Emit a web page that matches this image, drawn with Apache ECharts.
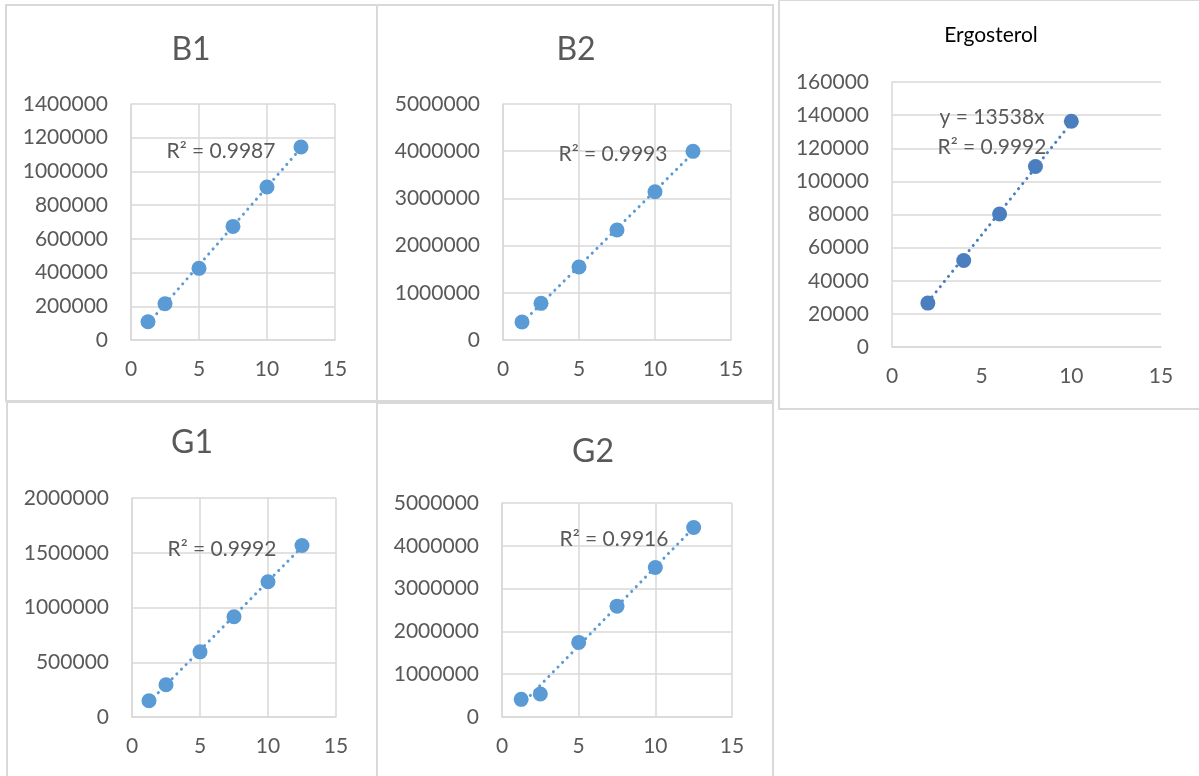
<!DOCTYPE html>
<html><head><meta charset="utf-8">
<script src="https://cdn.jsdelivr.net/npm/echarts@6/dist/echarts.min.js"></script>
<style>html,body{margin:0;padding:0;background:#fff}#c{width:1199px;height:776px}</style>
</head><body><div id="c"></div>
<script>
// ---- data ----
const concX = [1.25, 2.5, 5, 7.5, 10, 12.5];
const b1Y = [108000, 215000, 425000, 674000, 908000, 1145000];
const b2Y = [381000, 777000, 1547000, 2331000, 3142000, 3997000];
const g1Y = [148000, 294000, 595000, 916000, 1235000, 1566000];
const g2Y = [413000, 537000, 1743000, 2590000, 3493000, 4426000];
const ergX = [2, 4, 6, 8, 10];
const ergY = [26500, 52200, 80300, 109000, 136300];
const titles = ['B1', 'B2', 'Ergosterol', 'G1', 'G2'];
const r2Labels = ['R² = 0.9987', 'R² = 0.9993', 'R² = 0.9992', 'R² = 0.9992', 'R² = 0.9916'];
const eqLabel = 'y = 13538x';
const yMax = [1400000, 5000000, 160000, 2000000, 5000000];
const yStep = [200000, 1000000, 20000, 500000, 1000000];
const xMax = 15, xStep = 5;

// ---- layout ----
const FONT = 'Lato';
const grids = [
  {left: 131, top: 104, width: 204, height: 236},
  {left: 503, top: 104, width: 228, height: 236},
  {left: 892, top: 82, width: 269, height: 265},
  {left: 132, top: 498, width: 204, height: 219},
  {left: 502, top: 503, width: 230, height: 214}
];
const sets = [
  {x: concX, y: b1Y, origin: false, color: '#5B9BD5'},
  {x: concX, y: b2Y, origin: false, color: '#5B9BD5'},
  {x: ergX, y: ergY, origin: true, color: '#4A7EBF'},
  {x: concX, y: g1Y, origin: false, color: '#5B9BD5'},
  {x: concX, y: g2Y, origin: false, color: '#5B9BD5'}
];

function fit(xs, ys, origin) {
  const n = xs.length;
  let b, a;
  if (origin) {
    let sxy = 0, sxx = 0;
    for (let i = 0; i < n; i++) { sxy += xs[i] * ys[i]; sxx += xs[i] * xs[i]; }
    b = sxy / sxx; a = 0;
  } else {
    const mx = xs.reduce((s, v) => s + v, 0) / n, my = ys.reduce((s, v) => s + v, 0) / n;
    let sxy = 0, sxx = 0;
    for (let i = 0; i < n; i++) { sxy += (xs[i] - mx) * (ys[i] - my); sxx += (xs[i] - mx) ** 2; }
    b = sxy / sxx; a = my - b * mx;
  }
  const x0 = Math.min(...xs), x1 = Math.max(...xs);
  return [[x0, a + b * x0], [x1, a + b * x1]];
}

const xAxis = [], yAxis = [], series = [];
sets.forEach((s, i) => {
  const erg = i === 2;
  xAxis.push({
    gridIndex: i, type: 'value', min: 0, max: xMax, interval: xStep,
    axisLine: {show: true, lineStyle: {color: '#D9D9D9', width: 1.5}},
    axisTick: {show: false},
    axisLabel: {color: '#595959', fontFamily: FONT, fontSize: 21, margin: 19, formatter: v => String(v)},
    splitLine: {show: !erg, lineStyle: {color: '#D9D9D9', width: 1.5}}
  });
  yAxis.push({
    gridIndex: i, type: 'value', min: 0, max: yMax[i], interval: yStep[i],
    axisLine: {show: true, lineStyle: {color: '#D9D9D9', width: 1.5}},
    axisTick: {show: false},
    axisLabel: {color: '#595959', fontFamily: FONT, fontSize: 21, margin: 23, formatter: v => String(v)},
    splitLine: {show: true, lineStyle: {color: '#D9D9D9', width: 1.5}}
  });
  series.push({
    type: 'line', xAxisIndex: i, yAxisIndex: i, data: fit(s.x, s.y, s.origin),
    showSymbol: false, symbol: 'none', silent: true, z: 2,
    lineStyle: {color: s.color, width: 3, type: [0.1, 6.5], cap: 'round'}
  });
  series.push({
    type: 'scatter', xAxisIndex: i, yAxisIndex: i, symbolSize: 15, z: 3,
    itemStyle: {color: s.color, opacity: 1},
    data: s.x.map((v, k) => [v, s.y[k]])
  });
});

const borderStyle = {fill: 'none', stroke: '#D9D9D9', lineWidth: 2};
const graphic = [
  {type: 'rect', shape: {x: 6, y: 5, width: 371, height: 396}, style: borderStyle, silent: true},
  {type: 'rect', shape: {x: 377, y: 5, width: 396, height: 396}, style: borderStyle, silent: true},
  {type: 'rect', shape: {x: 779, y: 0, width: 430, height: 409}, style: borderStyle, silent: true},
  {type: 'rect', shape: {x: 7, y: 402, width: 370, height: 380}, style: borderStyle, silent: true},
  {type: 'rect', shape: {x: 377, y: 403, width: 396, height: 380}, style: borderStyle, silent: true}
];
const titlePos = [[191, 50], [576, 50], [991, 35], [192, 443], [593, 452]];
titlePos.forEach((p, i) => {
  const erg = i === 2;
  graphic.push({type: 'text', x: p[0], y: p[1], silent: true, style: {
    text: titles[i], fill: erg ? '#000000' : '#595959', font: (erg ? '21px ' : '32px ') + FONT,
    textAlign: 'center', textVerticalAlign: 'middle'}});
});
const r2Pos = [[221, 151], [613, 154], [992, 147], [222, 549], [614, 539]];
r2Pos.forEach((p, i) => {
  graphic.push({type: 'text', x: p[0], y: p[1], silent: true, z: 10, style: {
    text: r2Labels[i], fill: '#595959', font: '21px ' + FONT, textAlign: 'center', textVerticalAlign: 'middle'}});
});
graphic.push({type: 'text', x: 992, y: 117, silent: true, z: 10, style: {
  text: eqLabel, fill: '#595959', font: '21px ' + FONT, textAlign: 'center', textVerticalAlign: 'middle'}});

const chart = echarts.init(document.getElementById('c'), null, {renderer: 'canvas'});
chart.setOption({
  animation: false,
  backgroundColor: '#FFFFFF',
  grid: grids.map(g => Object.assign({containLabel: false}, g)),
  xAxis, yAxis, series, graphic
});
</script>
</body></html>
